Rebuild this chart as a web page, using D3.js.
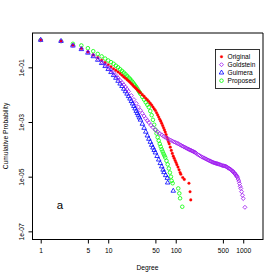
<!DOCTYPE html>
<html>
<head>
<meta charset="utf-8">
<script src="https://cdn.jsdelivr.net/npm/d3@7"></script>
<style>
  body { margin: 0; background: #fff; }
  text { font-family: "Liberation Sans", Arial, sans-serif; fill: #000; }
</style>
</head>
<body>
<svg id="chart" width="280" height="280"></svg>
<script>
// degree values and log10(cumulative probability)
var origDeg = [1,2,3,4,5,6,7,8,9,10,11,12,13,14,15,16,17,18,19,20,21,22,23,24,25,26,27,28,29,30,32,34,36,38,40,42,44,46,48,50,52,54,56,58,60,62,64,66,68,70,72,74,76,78,80,83,86,89,92,95,98,101,104,108,112,116,119,127,134,157,163,167];
var origLogP = [0,-0.04,-0.19,-0.31,-0.43,-0.54,-0.64,-0.74,-0.83,-0.91,-0.98,-1.05,-1.11,-1.17,-1.23,-1.29,-1.35,-1.4,-1.45,-1.5,-1.55,-1.6,-1.65,-1.7,-1.74,-1.78,-1.82,-1.86,-1.9,-1.93,-2.0,-2.06,-2.13,-2.19,-2.25,-2.32,-2.38,-2.45,-2.52,-2.58,-2.66,-2.74,-2.82,-2.9,-2.97,-3.05,-3.13,-3.21,-3.29,-3.37,-3.46,-3.55,-3.64,-3.72,-3.8,-3.92,-4.04,-4.15,-4.25,-4.33,-4.41,-4.48,-4.56,-4.65,-4.75,-4.85,-4.91,-5.03,-5.1,-5.24,-5.55,-5.85];

var goldDeg = [1,2,3,4,5,6,7,8,9,10,11,12,13,14,15,16,17,18,19,20,22,24,26,28,30,32,34,36,38,40,43,46,50,54,58,62,66,70,75,80,85,90,95,100,105,110,115,120,125,130,135,140,145,150,155,160,165,170,175,180,185,190,195,200,210,220,230,240,250,260,270,280,290,300,310,320,330,340,350,360,370,380,390,400,410,420,430,440,455,470,485,500,515,530,545,560,575,590,605,620,640,660,680,700,715,730,745,760,775,790,805,820,840,860,880,900,920,945,975,1000,1060];
var goldLogP = [0,-0.04,-0.2,-0.32,-0.44,-0.56,-0.68,-0.8,-0.9,-1.0,-1.1,-1.2,-1.3,-1.39,-1.48,-1.56,-1.64,-1.72,-1.8,-1.88,-2.03,-2.18,-2.32,-2.45,-2.57,-2.68,-2.78,-2.87,-2.95,-3.02,-3.12,-3.2,-3.29,-3.36,-3.42,-3.47,-3.52,-3.56,-3.6,-3.64,-3.67,-3.7,-3.73,-3.75,-3.78,-3.8,-3.83,-3.85,-3.88,-3.9,-3.92,-3.94,-3.96,-3.98,-4.0,-4.01,-4.03,-4.04,-4.06,-4.07,-4.09,-4.1,-4.12,-4.14,-4.18,-4.21,-4.24,-4.27,-4.29,-4.31,-4.33,-4.35,-4.37,-4.39,-4.41,-4.42,-4.44,-4.45,-4.47,-4.48,-4.49,-4.5,-4.51,-4.52,-4.52,-4.53,-4.54,-4.55,-4.56,-4.57,-4.59,-4.6,-4.6,-4.61,-4.62,-4.63,-4.65,-4.67,-4.69,-4.7,-4.72,-4.75,-4.78,-4.8,-4.83,-4.85,-4.88,-4.9,-4.93,-4.96,-4.99,-5.02,-5.09,-5.16,-5.25,-5.35,-5.43,-5.55,-5.68,-5.8,-6.12];

var guimDeg = [1,2,3,4,5,6,7,8,9,10,11,12,13,14,15,16,17,18,19,20,21,22,23,24,25,26,27,28,29,30,32,34,36,38,40,42,44,46,48,50,53,56,59,62,65,67,71,75,76,92];
var guimLogP = [0,-0.04,-0.21,-0.34,-0.47,-0.6,-0.73,-0.85,-0.96,-1.07,-1.18,-1.29,-1.39,-1.5,-1.6,-1.69,-1.79,-1.88,-1.97,-2.06,-2.15,-2.24,-2.33,-2.42,-2.51,-2.6,-2.68,-2.76,-2.84,-2.92,-3.07,-3.22,-3.36,-3.5,-3.62,-3.73,-3.84,-3.94,-4.03,-4.12,-4.25,-4.38,-4.51,-4.63,-4.75,-4.84,-4.95,-5.05,-5.22,-5.52];

var propDeg = [1,2,3,4,5,6,7,8,9,10,11,12,13,14,15,16,17,18,19,20,21,22,23,24,25,26,27,28,29,30,32,34,36,38,40,42,44,46,48,50,52,54,56,58,60,62,64,66,68,70,73,76,79,82,85,87,90,109,113,116,125];
var propLogP = [0,-0.04,-0.14,-0.2,-0.3,-0.41,-0.51,-0.6,-0.68,-0.75,-0.81,-0.87,-0.94,-1.0,-1.07,-1.13,-1.19,-1.25,-1.31,-1.37,-1.42,-1.48,-1.54,-1.6,-1.66,-1.72,-1.78,-1.85,-1.91,-1.97,-2.08,-2.18,-2.28,-2.37,-2.46,-2.6,-2.75,-2.92,-3.1,-3.28,-3.42,-3.56,-3.68,-3.8,-3.9,-4.0,-4.08,-4.16,-4.23,-4.3,-4.42,-4.55,-4.7,-4.85,-5.0,-5.15,-5.24,-5.43,-5.61,-5.79,-6.1];

var seriesNames = ["Original", "Goldstein", "Guimera", "Proposed"];
var seriesColors = ["#ff0000", "#a020f0", "#0000ff", "#00ff00"];
var xTicks = [1, 5, 10, 50, 100, 500, 1000];
var yTicks = [1e-1, 1e-3, 1e-5, 1e-7];
var yTickLabels = ["1e-01", "1e-03", "1e-05", "1e-07"];

var svg = d3.select("#chart");
var plot = { left: 32, right: 263, top: 33, bottom: 239 };

var x = d3.scaleLog().domain([0.743, 1963]).range([plot.left, plot.right]);
var y = d3.scaleLog().domain([1.803, 5.25e-8]).range([plot.top, plot.bottom]);

function pairs(deg, logp) {
    return deg.map(function (d, i) { return [d, Math.pow(10, logp[i])]; });
}

// marker shapes like R pch 20, 5, 2, 1
var shapes = {
    dot: d3.symbol().type(d3.symbolCircle).size(5.5)(),
    diamond: d3.symbol().type(d3.symbolSquare).size(8)(),
    triangle: d3.symbol().type(d3.symbolTriangle).size(9)(),
    circle: d3.symbol().type(d3.symbolCircle).size(10)()
};

function drawSeries(data, color, shape) {
    var g = svg.append("g");
    g.selectAll("path")
        .data(data)
        .enter()
        .append("path")
        .attr("d", shapes[shape])
        .attr("transform", function (d) {
            var t = "translate(" + x(d[0]) + "," + y(d[1]) + ")";
            return shape === "diamond" ? t + " rotate(45)" : t;
        })
        .attr("fill", shape === "dot" ? color : "none")
        .attr("stroke", color)
        .attr("stroke-width", shape === "dot" ? 0.3 : 0.8);
}

drawSeries(pairs(propDeg, propLogP), seriesColors[3], "circle");
drawSeries(pairs(origDeg, origLogP), seriesColors[0], "dot");
drawSeries(pairs(guimDeg, guimLogP), seriesColors[2], "triangle");
drawSeries(pairs(goldDeg, goldLogP), seriesColors[1], "diamond");

// frame: crisp left/bottom, soft top/right as in the png
svg.append("line").attr("x1", plot.left + 0.5).attr("x2", plot.left + 0.5)
    .attr("y1", plot.top).attr("y2", plot.bottom + 0.5).attr("stroke", "#000");
svg.append("line").attr("x1", plot.left).attr("x2", plot.right)
    .attr("y1", plot.bottom + 0.5).attr("y2", plot.bottom + 0.5).attr("stroke", "#000");
svg.append("line").attr("x1", plot.left).attr("x2", plot.right)
    .attr("y1", plot.top).attr("y2", plot.top).attr("stroke", "#000");
svg.append("line").attr("x1", plot.right).attr("x2", plot.right)
    .attr("y1", plot.top).attr("y2", plot.bottom + 1).attr("stroke", "#000");

// axes
var xAxis = svg.append("g")
    .attr("transform", "translate(0," + (plot.bottom + 0.5) + ")")
    .call(d3.axisBottom(x).tickValues(xTicks).tickFormat(d3.format("d")).tickSize(4).tickPadding(5));
xAxis.select(".domain").remove();
xAxis.selectAll("text").style("font-size", "6.7px").attr("font-family", null);

var yAxis = svg.append("g")
    .attr("transform", "translate(" + (plot.left + 0.5) + ",0)")
    .call(d3.axisLeft(y).tickValues(yTicks)
        .tickFormat(function (d, i) { return yTickLabels[i]; }).tickSize(4));
yAxis.select(".domain").remove();
yAxis.selectAll("text")
    .attr("x", null).attr("dy", null)
    .attr("text-anchor", "middle")
    .attr("transform", "translate(-9,0) rotate(-90)")
    .style("font-size", "6.7px");

svg.append("text")
    .attr("x", (plot.left + plot.right) / 2).attr("y", 269.5)
    .attr("text-anchor", "middle").style("font-size", "6.7px")
    .text("Degree");

svg.append("text")
    .attr("transform", "translate(8," + (plot.top + plot.bottom) / 2 + ") rotate(-90)")
    .attr("text-anchor", "middle").style("font-size", "6.7px")
    .text("Cumulative Probability");

svg.append("text")
    .attr("x", 60).attr("y", 208.5)
    .attr("text-anchor", "middle").style("font-size", "11.5px")
    .text("a");

// legend
var legend = svg.append("g").attr("transform", "translate(215.5,49.5)");
legend.append("rect").attr("width", 44).attr("height", 39)
    .attr("fill", "#fff").attr("stroke", "#000").attr("stroke-width", 0.8);
var legendShapes = ["dot", "diamond", "triangle", "circle"];
seriesNames.forEach(function (name, i) {
    var row = legend.append("g").attr("transform", "translate(0," + (7.2 + i * 8) + ")");
    row.append("path")
        .attr("d", shapes[legendShapes[i]])
        .attr("transform", "translate(6,0)" + (legendShapes[i] === "diamond" ? " rotate(45)" : ""))
        .attr("fill", legendShapes[i] === "dot" ? seriesColors[i] : "none")
        .attr("stroke", seriesColors[i])
        .attr("stroke-width", legendShapes[i] === "dot" ? 0.3 : 0.8);
    row.append("text").attr("x", 12).attr("y", 2.3)
        .style("font-size", "6.6px").text(name);
});
</script>
</body>
</html>
